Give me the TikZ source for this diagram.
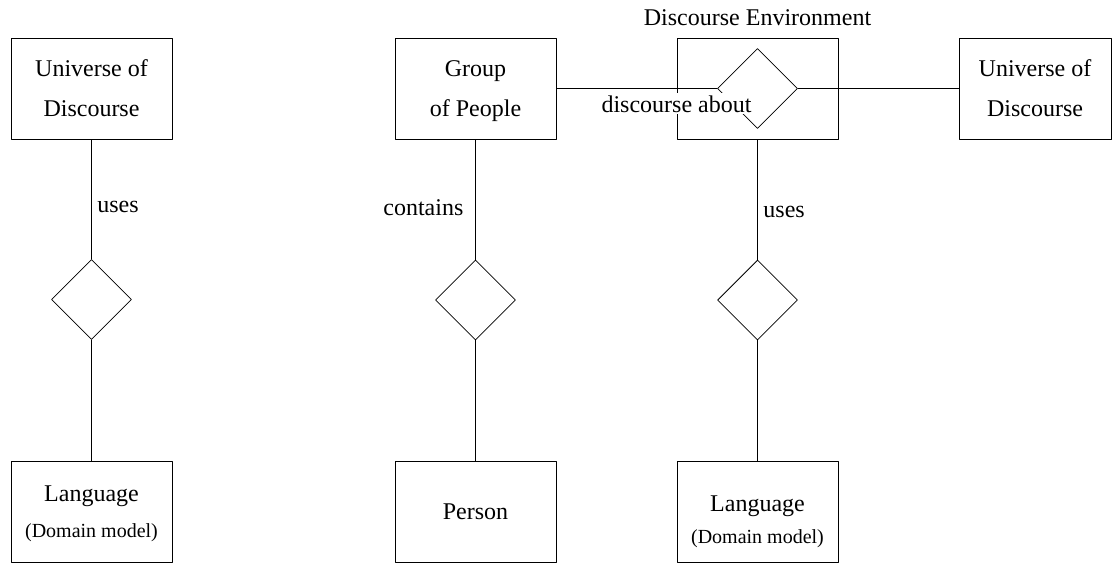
\documentclass[tikz,border=0pt]{standalone}
\usepackage{fontspec}
\setmainfont{Liberation Serif}
\usetikzlibrary{shapes.geometric}

\begin{document}
\begin{tikzpicture}[
  x=0.5pt, y=-0.5pt,
  line cap=round, line join=round,
  ent/.style={draw, thin, minimum width=80.5pt, minimum height=50.5pt, inner sep=0pt,
    align=center, font=\fontsize{12}{20}\selectfont},
  rel/.style={diamond, draw, thin, aspect=1, minimum width=40pt, minimum height=40pt, inner sep=0pt},
  lbl/.style={font=\fontsize{12}{14}\selectfont, inner sep=0pt, anchor=base west},
  sub/.style={font=\fontsize{10}{12}\selectfont}
]
  \useasboundingbox (0,0) rectangle (1112,563);

  % left: universe of discourse uses a language
  \node[ent] (uodL)  at (91.5,88.5) {Universe of\\Discourse};
  \node[rel] (relL)  at (91.5,299.5) {};
  \node[ent, font=\fontsize{12}{14}\selectfont] (langL) at (91.5,511.5)
    {\rule{0pt}{10pt}Language\\[4pt]{\fontsize{10}{12}\selectfont(Domain model)}};
  \draw (uodL) -- (relL);
  \draw (relL) -- (langL);
  \node[lbl] (usesL) at (97,212) {uses};

  % middle: group of people contains persons
  \node[ent] (group)  at (475.5,88.5) {\rule{0pt}{11pt}Group\\of People};
  \node[rel] (relC)   at (475.5,300) {};
  \node[ent, font=\fontsize{12}{14}\selectfont] (person) at (475.5,511.5) {Person};
  \draw (group) -- (relC);
  \draw (relC) -- (person);
  \node[lbl] (contains) at (383,215) {contains};

  % discourse environment, with the relation boxed in
  \node[ent] (env) at (757.5,88.5) {};
  \node[lbl, anchor=base] (envT) at (757.5,25) {Discourse Environment};
  \node[rel] (relE) at (757.5,88.5) {};
  \node[ent, minimum width=76pt] (uodR) at (1035,88.5) {Universe of\\Discourse};
  \draw (group.east) -- (relE.west);
  \draw (relE.east) -- (uodR.west);

  % language used in the environment
  \node[rel] (relU)  at (757.5,300) {};
  \node[ent, font=\fontsize{12}{14}\selectfont] (langR) at (757.5,511.5)
    {\rule{0pt}{18pt}Language\\[2pt]{\fontsize{10}{12}\selectfont(Domain model)}};
  \draw (env) -- (relU);
  \draw (relU) -- (langR);
  \node[lbl] (usesR) at (763,217) {uses};

  % label laid over the box edge
  \node[lbl, anchor=base, fill=white, inner sep=1pt] (about) at (676.5,112) {discourse about};
\end{tikzpicture}
\end{document}
